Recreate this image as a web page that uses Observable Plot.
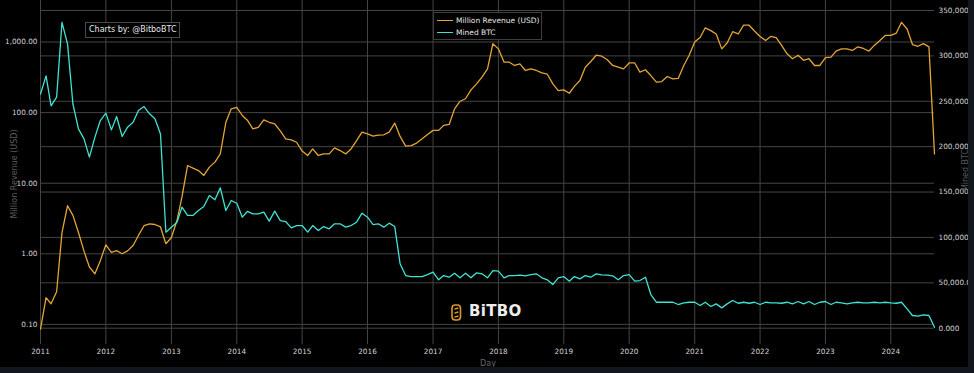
<!DOCTYPE html>
<html><head><meta charset="utf-8">
<script src="https://cdn.jsdelivr.net/npm/d3@7"></script>
<script src="https://cdn.jsdelivr.net/npm/@observablehq/plot@0.6"></script>
<style>
html,body{margin:0;padding:0;background:#12161d;}
#wrap{position:relative;width:968px;height:367px;background:#000;overflow:hidden;font-family:"DejaVu Sans",sans-serif;}
#wrap svg.layer{position:absolute;left:0;top:0;}
.abs{position:absolute;white-space:nowrap;}
</style></head><body><div id="wrap"></div>
<script>
// ---- data (monthly, starting January 2011) ----
const startMonth = "2011-01-01";
const revenueMillionUSD = [
  0.086, 0.24, 0.196, 0.29, 2.0, 4.8, 3.5, 2.0, 1.09, 0.65, 0.52, 0.80,
  1.34, 1.05, 1.11, 1.0, 1.1, 1.31, 1.82, 2.5, 2.66, 2.6, 2.4, 1.39,
  1.7, 2.96, 6.4, 17.8, 16.4, 15.1, 12.9, 16.9, 19.9, 26, 73, 113,
  119, 91, 78, 59, 62, 79, 73, 69, 55, 42.6, 41, 38,
  28.5, 24.7, 30.6, 24.7, 26, 26, 31.7, 29, 26, 30.6, 40, 53,
  50, 46.5, 48, 48.5, 53, 71, 46, 33.5, 34, 37, 42.6, 49,
  56, 56, 66, 68, 113, 145, 157, 210, 255, 318, 417, 945,
  800, 520, 520, 465, 490, 395, 417, 395, 365, 350, 255, 205,
  210, 188, 235, 285, 440, 530, 650, 630, 560, 465, 440, 417,
  505, 505, 375, 405, 335, 270, 275, 325, 300, 305, 465, 650,
  1000, 1170, 1590, 1450, 1300, 800, 970, 1400, 1300, 1730, 1730, 1430,
  1200, 1050, 1200, 1150, 895, 680, 580, 650, 550, 580, 465, 465,
  600, 610, 745, 800, 800, 760, 855, 810, 745, 895, 1050, 1240,
  1240, 1340, 1900, 1530, 920, 870, 950, 855, 26
];
const minedBTC = [
  258000, 278000, 245000, 254500, 337000, 313000, 247000, 219600, 208600, 188400, 210500, 228800,
  236900, 218500, 233200, 211200, 221500, 227000, 239800, 244200, 236200, 230700, 214000, 105800,
  111300, 116800, 133300, 124200, 124200, 129700, 134000, 146200, 141400, 154600, 129700, 140700,
  137700, 122300, 128600, 126000, 126000, 127800, 117900, 129000, 118600, 117500, 110600, 113100,
  113100, 105800, 113100, 107600, 112000, 109500, 115000, 115000, 111300, 113100, 116800, 126700,
  122300, 114200, 115000, 111300, 115700, 112000, 70900, 58000, 56900, 56900, 56900, 59100,
  61700, 53300, 58000, 56200, 60600, 55500, 60600, 55500, 61000, 59900, 55500, 63500,
  62800, 55500, 58000, 58000, 58400, 57700, 59100, 59900, 55500, 53300, 48100, 55500,
  56900, 51800, 56900, 54400, 58000, 56200, 59900, 58800, 58400, 57700, 53300, 58000,
  59100, 51800, 52500, 56200, 37100, 28600, 28600, 28600, 28600, 26100, 27900, 28600,
  28600, 25000, 28600, 23900, 26800, 22400, 26800, 30500, 27500, 28600, 27500, 28600,
  26100, 28600, 27900, 27900, 27500, 28600, 26800, 29400, 26800, 29400, 26100, 28600,
  29400, 26100, 28600, 27900, 26800, 27900, 28600, 27900, 27900, 28600, 27900, 28600,
  27900, 27500, 28600, 21300, 14000, 13200, 14700, 14000, 1000
];
const yearTicks = [2011,2012,2013,2014,2015,2016,2017,2018,2019,2020,2021,2022,2023,2024];
const revenueTicks = [0.1, 1, 10, 100, 1000];
const btcTicks = [0, 50000, 100000, 150000, 200000, 250000, 300000, 350000];
const seriesNames = ["Million Revenue (USD)", "Mined BTC"];
const colors = ["#e3a536", "#3fe3d2"];

// ---- build ----
const start = new Date(startMonth + "T00:00:00Z");
const rows = revenueMillionUSD.map((v, i) => ({date: d3.utcMonth.offset(start, i), rev: v, btc: minedBTC[i]}));
const yearDates = yearTicks.map(y => new Date(Date.UTC(y, 0, 1)));
const xDomain = [rows[0].date, rows[rows.length - 1].date];

const W = 968, H = 367;
const common = {
  width: W, height: H, marginLeft: 40, marginRight: 34, marginTop: 0, marginBottom: 23,
  style: {background: "transparent", color: "#d4d4d4", fontFamily: "DejaVu Sans, sans-serif", fontSize: "7.3px"}
};
const grid = "#444";

const rightAxis = Plot.plot({
  ...common,
  x: {type: "utc", domain: xDomain, axis: null},
  y: {domain: [-17958, 361027], axis: null},
  marks: [
    Plot.gridY(btcTicks, {stroke: grid, strokeOpacity: 1}),
    Plot.axisY(btcTicks, {anchor: "right", tickSize: 0, tickPadding: 4, tickFormat: d3.format(",.3f"), label: null})
  ]
});

const leftPlot = Plot.plot({
  ...common,
  x: {type: "utc", domain: xDomain},
  y: {type: "log", domain: [0.05191, 3873]},
  marks: [
    Plot.gridX(yearDates, {stroke: grid, strokeOpacity: 1}),
    Plot.gridY(revenueTicks, {stroke: grid, strokeOpacity: 1}),
    Plot.axisX(yearDates, {tickSize: 0, tickPadding: 4, tickFormat: "%Y", label: null}),
    Plot.axisY(revenueTicks, {anchor: "left", tickSize: 0, tickPadding: 3, tickFormat: d3.format(",.2f"), label: null}),
    Plot.lineY(rows, {x: "date", y: "rev", stroke: colors[0], strokeWidth: 1.3})
  ]
});

const cyanPlot = Plot.plot({
  ...common,
  x: {type: "utc", domain: xDomain, axis: null},
  y: {domain: [-17958, 361027], axis: null},
  marks: [
    Plot.lineY(rows, {x: "date", y: "btc", stroke: colors[1], strokeWidth: 1.3})
  ]
});

const wrap = document.getElementById("wrap");
for (const p of [rightAxis, leftPlot, cyanPlot]) { p.classList.add("layer"); wrap.appendChild(p); }

// axis titles
wrap.insertAdjacentHTML("beforeend", `
<div class="abs" style="left:14px;top:174px;transform:translate(-50%,-50%) rotate(-90deg);font-size:8px;color:#5c5c5c;">${seriesNames[0]}</div>
<div class="abs" style="left:965px;top:170px;transform:translate(-50%,-50%) rotate(-90deg);font-size:8px;color:#5c5c5c;">${seriesNames[1]}</div>
<div class="abs" style="left:488px;top:363px;transform:translate(-50%,-50%);font-size:8px;color:#666;">Day</div>
<div class="abs" style="left:85px;top:22px;width:95px;height:16px;box-sizing:border-box;border:1px solid #4a4a4a;background:#000;color:#e6e6e6;font-size:8px;line-height:14px;padding-left:3px;">Charts by: @BitboBTC</div>
<div class="abs" style="left:433px;top:12px;width:109px;height:28px;box-sizing:border-box;border:1px solid #3e3e3e;background:#000;">
  <div class="abs" style="left:3px;top:7px;width:16px;border-top:1.4px solid ${colors[0]};"></div>
  <div class="abs" style="left:22px;top:3px;font-size:7.5px;color:#e6e6e6;">${seriesNames[0]}</div>
  <div class="abs" style="left:3px;top:19px;width:16px;border-top:1.4px solid ${colors[1]};"></div>
  <div class="abs" style="left:22px;top:15px;font-size:7.5px;color:#e6e6e6;">${seriesNames[1]}</div>
</div>
<div class="abs" style="left:451px;top:304px;">
  <svg width="11" height="17" viewBox="0 0 11 17"><rect x="1" y="1" width="8.5" height="15" rx="3.2" fill="none" stroke="#d8982c" stroke-width="1.6"/><path d="M3.4 5.2 L7.4 4 M3.4 9.2 L7.4 8 M3.4 13.2 L7.4 12" stroke="#d8982c" stroke-width="1.4"/></svg>
</div>
<div class="abs" style="left:469px;top:302px;font-size:15px;font-weight:bold;color:#ededed;letter-spacing:0.3px;">BiTBO</div>
`);
</script>
</body></html>
